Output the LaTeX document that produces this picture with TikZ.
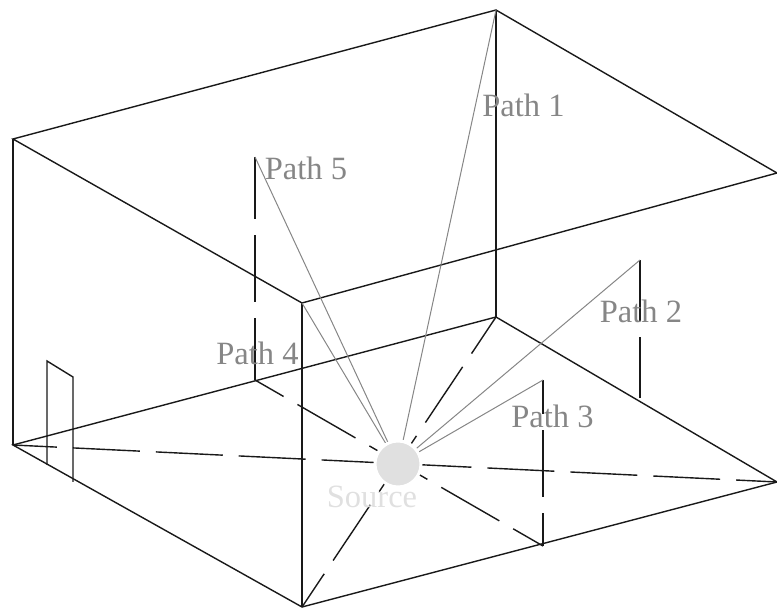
\documentclass[tikz,border=0pt]{standalone}
\usepackage{fontspec}
\setmainfont{Liberation Serif}
\usepackage{xcolor}
\definecolor{pathgray}{HTML}{868686}
\definecolor{sourcegray}{HTML}{E0E0E0}
\tikzset{
wall/.style={line width=1.4pt,black!90},
floorline/.style={line width=1.4pt,black!90,dash pattern=on 67pt off 16pt},
ray/.style={line width=1pt,pathgray},
pathlabel/.style={text=pathgray,font=\fontsize{32.5}{34}\selectfont,inner sep=0pt},
sourcelabel/.style={text=sourcegray,font=\fontsize{32.5}{34}\selectfont,inner sep=0pt},
sourcenode/.style={circle,fill=sourcegray,draw=white,line width=3pt,minimum size=46pt,inner sep=0pt}
}

\begin{document}
\begin{tikzpicture}[x=1pt,y=-1pt]
\useasboundingbox(0,0)rectangle(777,609);
% room corners
\coordinate(topleft)at(13,139);
\coordinate(topback)at(496,10);
\coordinate(topright)at(777,173);
\coordinate(topfront)at(302,303);
\coordinate(floorleft)at(13,445);
\coordinate(floorback)at(496,317);
\coordinate(floorright)at(777,482);
\coordinate(floorfront)at(302,607);
% small door
\coordinate(doorA)at(47,361);
\coordinate(doorB)at(73,377);
\coordinate(doorC)at(47,465);
\coordinate(doorD)at(73,482);
% feet and tops of the reflection points
\coordinate(topfive)at(255,157);
\coordinate(footfive)at(255,380);
\coordinate(toptwo)at(640,260);
\coordinate(foottwo)at(640,398);
\coordinate(topthree)at(543,380);
\coordinate(footthree)at(543,546);
\coordinate(centre)at(398,464);
% room
\draw[wall](topleft)--(topback)--(topright)--(topfront)--cycle;
\draw[wall](floorleft)--(floorback)--(floorright)--(floorfront)--cycle;
\draw[wall](topleft)--(floorleft)
(topback)--(floorback)
(topfront)--(floorfront);
\draw[wall](doorC)--(doorA)--(doorB)--(doorD);
% lines on the floor and up the walls
\draw[floorline,dash phase=23pt](floorleft)--(floorright);
\draw[floorline,dash phase=23pt](floorback)--(floorfront);
\draw[floorline,dash phase=34pt](footfive)--(footthree);
\draw[floorline,dash phase=5pt](footfive)--(topfive);
\draw[floorline,dash phase=6pt](foottwo)--(toptwo);
\draw[floorline,dash phase=34pt](footthree)--(topthree);
% rays
\draw[ray](centre)--(topback);
\draw[ray](centre)--(toptwo);
\draw[ray](centre)--(topthree);
\draw[ray](centre)--(topfront);
\draw[ray](centre)--(topfive);
\node[sourcenode](source)at(centre){};
% labels
\node[pathlabel](labelone)at(523.5,105){Path 1};
\node[pathlabel](labeltwo)at(641,311){Path 2};
\node[pathlabel](labelthree)at(552.5,416){Path 3};
\node[pathlabel](labelfour)at(257.5,353){Path 4};
\node[pathlabel](labelfive)at(306,168){Path 5};
\node[sourcelabel](labelsource)at(372,497){Source};
\end{tikzpicture}
\end{document}
